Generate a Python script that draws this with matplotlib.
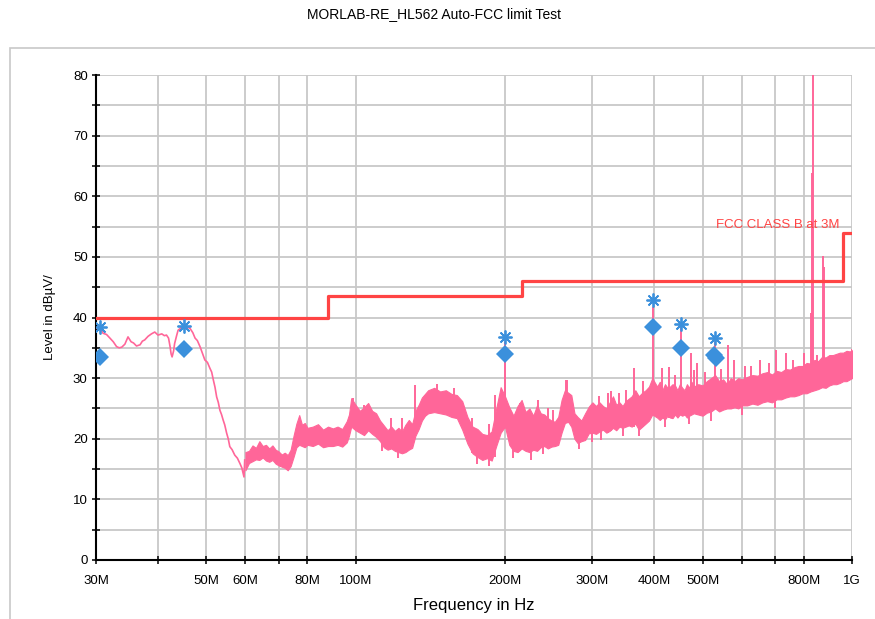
import matplotlib
matplotlib.use("Agg")
import matplotlib.pyplot as plt
from matplotlib.ticker import FixedLocator, FixedFormatter, MultipleLocator
from matplotlib.patches import Rectangle

plt.rcParams['font.family'] = ['Liberation Sans', 'DejaVu Sans']

# ---------------- data ----------------
title = "MORLAB-RE_HL562 Auto-FCC limit Test"

# smooth part of the trace (MHz, dBuV)
smooth_freq = [30.0, 30.5, 31.0, 31.5, 32.0, 32.5, 33.0, 33.4, 33.8, 34.3, 34.8, 35.3, 35.7,
               36.2, 36.8, 37.2, 37.6, 38.2, 38.8, 39.4, 40.0, 40.7, 41.2, 41.6, 42.0, 42.3,
               42.5, 42.7, 43.0, 43.2, 43.6, 43.9, 44.5, 45.3, 45.9, 46.4, 47.0, 47.5, 48.0,
               48.6, 49.2, 49.7, 50.3, 50.9, 51.3, 51.7, 52.1, 52.5, 52.9, 53.3, 53.7, 54.1,
               54.5, 55.0, 55.4, 55.8, 56.4, 57.1, 57.8, 58.5, 59.0, 59.6, 59.8]
smooth_level = [38.2, 38.6, 37.4, 37.2, 36.6, 36.0, 35.2, 35.0, 35.1, 35.6, 36.8, 36.0, 35.8,
                35.3, 35.5, 36.1, 36.3, 36.9, 37.3, 37.6, 37.1, 37.3, 37.0, 37.1, 36.6, 35.2,
                34.0, 33.5, 34.5, 35.7, 37.0, 37.9, 38.3, 38.6, 38.4, 38.2, 37.5, 36.6, 36.2,
                35.2, 34.0, 33.0, 32.6, 31.6, 31.0, 29.7, 28.5, 26.9, 26.0, 24.7, 24.0, 23.1,
                22.3, 20.9, 20.0, 18.7, 18.2, 17.3, 16.8, 15.9, 15.2, 13.7, 16.5]

# noisy part of the trace: low / high envelope (MHz, dBuV)
noise_freq = [60, 61, 62, 63, 64, 65, 66, 67, 68, 69, 70, 71, 72, 73, 74, 75, 76, 77, 78, 79,
              80, 82, 84, 86, 88, 90, 92, 94, 96, 97, 98, 100, 102, 104, 106, 108, 110, 112,
              114, 116, 118, 120, 122, 124, 126, 128, 130, 132, 134, 136, 138, 140, 144, 148,
              152, 156, 160, 164, 168, 172, 176, 180, 184, 188, 192, 196, 200, 204, 208, 212,
              216, 220, 224, 228, 232, 236, 240, 244, 248, 252, 256, 260, 264, 268, 272, 276,
              280, 285, 290, 295, 300, 305, 310, 315, 320, 325, 330, 335, 340, 345, 350, 355,
              360, 366, 372, 378, 384, 390, 396, 405, 410, 415, 420, 425, 430, 435, 440, 445,
              450, 455, 460, 465, 470, 475, 480, 490, 500, 510, 520, 530, 540, 550, 560, 570,
              580, 590, 600, 615, 630, 645, 660, 675, 690, 705, 720, 735, 750, 765, 780, 795,
              810, 825, 840, 855, 870, 885, 900, 915, 930, 945, 960, 975, 990, 1000]
noise_low = [14.8, 16.0, 16.3, 16.6, 16.5, 16.9, 16.4, 16.2, 16.5, 15.9, 15.6, 15.4, 15.2, 14.8,
             15.5, 17.0, 18.6, 19.0, 18.8, 18.6, 19.0, 18.8, 19.2, 18.6, 18.8, 18.8, 19.0, 18.7,
             19.4, 20.5, 22.0, 21.4, 21.0, 20.6, 21.4, 20.8, 20.3, 19.6, 18.6, 18.2, 18.4, 18.0,
             17.8, 17.6, 17.8, 18.2, 18.5, 20.5, 21.6, 23.0, 23.8, 24.2, 24.4, 24.2, 24.0, 23.6,
             23.4, 21.5, 19.2, 17.6, 17.0, 16.5, 16.8, 16.4, 18.8, 21.0, 22.0, 19.0, 18.0, 17.8,
             18.4, 18.0, 17.8, 18.2, 18.0, 18.6, 18.8, 18.4, 18.7, 18.8, 19.0, 21.0, 22.6, 22.8,
             22.0, 20.0, 19.3, 19.6, 19.8, 20.9, 21.0, 20.8, 21.2, 21.5, 21.0, 21.3, 21.8, 21.4,
             22.0, 21.8, 22.0, 22.2, 22.0, 22.5, 21.5, 22.0, 22.5, 23.0, 24.0, 23.5, 23.1, 23.5,
             23.2, 23.8, 23.5, 23.4, 24.0, 23.5, 24.0, 23.8, 24.0, 23.5, 23.8, 24.0, 24.2, 24.0,
             23.8, 24.3, 24.5, 25.0, 24.5, 24.8, 25.0, 25.0, 25.2, 25.0, 25.5, 25.5, 25.8, 25.6,
             26.0, 26.2, 26.0, 26.5, 26.5, 26.8, 27.0, 27.0, 27.2, 27.5, 27.5, 27.8, 28.0, 28.2,
             28.5, 28.4, 28.8, 29.0, 29.0, 29.2, 29.5, 29.5, 29.8, 30.0]
noise_high = [17.8, 18.0, 18.9, 18.5, 19.6, 18.8, 19.0, 18.4, 18.9, 18.2, 17.9, 17.4, 17.7, 17.3,
              18.2, 20.5, 22.5, 23.9, 22.3, 22.6, 21.8, 22.0, 22.4, 21.5, 22.0, 21.7, 22.0, 21.6,
              22.9, 24.0, 26.7, 25.6, 24.6, 25.2, 25.9, 24.6, 24.2, 23.0, 22.2, 21.4, 22.0, 21.3,
              21.8, 21.2, 22.3, 23.1, 22.4, 24.6, 25.6, 26.8, 27.4, 28.0, 28.4, 27.8, 28.0, 27.4,
              27.2, 26.2, 23.6, 22.0, 21.6, 20.8, 20.6, 21.2, 25.0, 28.5, 27.0, 25.2, 23.8, 25.4,
              26.4, 24.4, 25.0, 23.8, 25.5, 24.2, 24.0, 23.4, 23.0, 22.8, 23.6, 26.4, 28.0, 27.6,
              27.2, 24.2, 23.6, 23.0, 24.2, 25.3, 26.0, 25.4, 26.0, 25.4, 25.0, 26.0, 27.0, 25.6,
              26.0, 25.4, 26.2, 26.6, 27.0, 28.0, 27.0, 27.6, 28.0, 28.6, 30.0, 28.6, 29.4, 28.0,
              29.0, 28.4, 28.6, 29.0, 28.8, 28.0, 29.0, 28.4, 28.0, 29.0, 28.4, 29.4, 28.6, 29.0,
              28.8, 29.5, 30.0, 30.5, 29.5, 29.8, 29.0, 30.0, 29.5, 30.0, 29.8, 30.2, 30.5, 30.4,
              30.8, 31.0, 30.6, 31.2, 31.0, 31.5, 31.4, 31.8, 32.0, 32.0, 32.5, 32.4, 33.0, 32.8,
              33.5, 33.4, 33.8, 33.8, 34.0, 34.2, 34.2, 34.5, 34.4, 34.6]

# narrow upward spikes (MHz, base dBuV, top dBuV)
spike_freq = [99, 104, 118, 124, 132, 146, 158, 172, 186, 190.6, 200, 214, 233, 244, 250,
              265, 267, 310, 323, 327, 340, 350, 364, 380, 397, 414, 428, 440, 452, 474, 481,
              488, 505, 529, 545, 563, 579, 610, 625, 654, 680, 703, 738, 760, 800, 826, 830,
              834, 850, 875, 880, 928, 970, 998]
spike_base = [22.0, 21.0, 18.4, 17.6, 20.5, 24.4, 23.5, 17.6, 16.8, 17.0, 22.0, 18.0, 18.2,
              18.4, 18.8, 22.6, 22.8, 21.2, 21.0, 21.3, 22.0, 22.0, 22.0, 22.0, 24.0, 23.5,
              23.5, 24.0, 24.0, 24.0, 24.2, 24.0, 24.0, 25.0, 24.6, 25.0, 25.2, 25.5, 25.7,
              26.0, 26.0, 26.5, 26.8, 27.0, 27.5, 27.8, 27.8, 27.8, 28.2, 28.4, 28.4, 29.0,
              29.5, 30.0]
spike_top = [26.7, 25.5, 23.5, 23.5, 28.9, 29.0, 28.3, 23.5, 22.5, 27.2, 36.0, 25.9, 26.4,
             25.0, 24.8, 29.7, 29.7, 27.0, 27.5, 27.8, 27.5, 28.0, 31.7, 29.5, 41.8, 31.7,
             31.8, 30.5, 38.6, 34.1, 31.3, 32.5, 31.0, 36.0, 31.5, 35.5, 33.0, 32.0, 32.0,
             33.0, 32.5, 34.6, 34.1, 33.0, 34.1, 40.7, 63.8, 85.0, 33.8, 50.2, 48.3, 33.5,
             34.1, 34.8]

# narrow downward dips (MHz, bottom dBuV, top dBuV)
dip_freq = [113, 122, 176, 186, 208, 226, 238, 282, 300, 312, 345, 372, 420, 470, 520, 600,
            700]
dip_bottom = [18.0, 16.8, 15.8, 15.5, 16.8, 16.5, 17.5, 18.3, 19.5, 19.8, 20.5, 20.5, 22.0,
              22.5, 23.0, 24.0, 25.0]
dip_top = [22.0, 21.0, 21.0, 20.0, 23.0, 24.0, 23.5, 23.0, 25.0, 25.0, 25.0, 26.0, 28.0,
           28.0, 29.0, 29.0, 30.0]

# limit line FCC class B at 3 m (MHz, dBuV), step function
limit_freq = [30, 88, 88, 216, 216, 960, 960, 1000]
limit_level = [40.0, 40.0, 43.5, 43.5, 46.0, 46.0, 54.0, 54.0]
limit_label = "FCC CLASS B at 3M"

# peak (star) and quasi-peak (diamond) markers
peak_freq = [30.5, 45.1, 199.7, 397, 452, 529]
peak_level = [38.4, 38.6, 36.8, 42.9, 38.9, 36.6]
qp_freq = [30.5, 45.1, 199.7, 397, 452, 528, 531]
qp_level = [33.5, 34.8, 34.0, 38.4, 35.0, 33.8, 33.3]

xtick_vals = [30, 40, 50, 60, 70, 80, 100, 200, 300, 400, 500, 600, 700, 800, 1000]
xtick_labels = ["30M", "", "50M", "60M", "", "80M", "100M", "200M", "300M", "400M", "500M",
                "", "", "800M", "1G"]

# ---------------- drawing ----------------
PINK = "#ff6699"
RED = "#ff4444"
BLUE = "#3b90dc"
GRID = "#c8c8c8"

fig = plt.figure(figsize=(8.75, 6.19), dpi=100)
ax = fig.add_axes([96 / 875, 59 / 619, 756 / 875, 485 / 619])

# frame around the plot region
fig.patches.append(Rectangle((10 / 875, -0.2), 1.2, 0.2 + (1 - 48 / 619),
                             transform=fig.transFigure, fill=False,
                             edgecolor=GRID, linewidth=1.2, zorder=0))

ax.set_xscale('log')
ax.set_xlim(30, 1000)
ax.set_ylim(0, 80)

# grid
ax.xaxis.set_major_locator(FixedLocator(xtick_vals))
ax.xaxis.set_major_formatter(FixedFormatter(xtick_labels))
ax.xaxis.set_minor_locator(FixedLocator([]))
ax.yaxis.set_major_locator(MultipleLocator(10))
ax.yaxis.set_minor_locator(MultipleLocator(5))
ax.grid(True, which='major', color=GRID, linewidth=1.3, zorder=0)
ax.grid(True, which='minor', axis='y', color=GRID, linewidth=1.3, zorder=0)
ax.set_axisbelow(True)

for s in ['top', 'right']:
    ax.spines[s].set_visible(False)
for s in ['left', 'bottom']:
    ax.spines[s].set_linewidth(1.5)
    ax.spines[s].set_color('black')

ax.tick_params(axis='both', which='both', direction='inout', length=6, width=1.1,
               labelsize=9.5, colors='black')
ax.tick_params(axis='x', which='major', pad=8)
ax.tick_params(axis='y', which='both', pad=3)

# trace
ax.plot(smooth_freq, smooth_level, color=PINK, linewidth=1.2, zorder=3)
ax.fill_between(noise_freq, noise_low, noise_high, color=PINK, linewidth=0.8,
                edgecolor=PINK, zorder=3)
ax.vlines(spike_freq, spike_base, spike_top, color=PINK, linewidth=1.4, zorder=3)
ax.vlines(dip_freq, dip_bottom, dip_top, color=PINK, linewidth=1.4, zorder=3)

# limit
ax.plot(limit_freq, limit_level, color=RED, linewidth=2.3, zorder=4)
ax.text(945, 55.3, limit_label, color=RED, fontsize=9.5, ha='right', va='center', zorder=5)

# markers
ax.plot(qp_freq, qp_level, linestyle='none', marker='D', markersize=9,
        markerfacecolor=BLUE, markeredgewidth=0, zorder=6)
ax.plot(peak_freq, peak_level, linestyle='none', marker=(8, 2, 0), markersize=10,
        markeredgecolor=BLUE, markeredgewidth=1.3, zorder=6)

ax.set_xlabel("Frequency in Hz", fontsize=12, labelpad=8)
ax.set_ylabel("Level in dBµV/", fontsize=9.5, labelpad=12)

fig.text(434 / 875, 1 - 14 / 619, title, ha='center', va='center', fontsize=10)

fig.savefig("out.png", dpi=100)
